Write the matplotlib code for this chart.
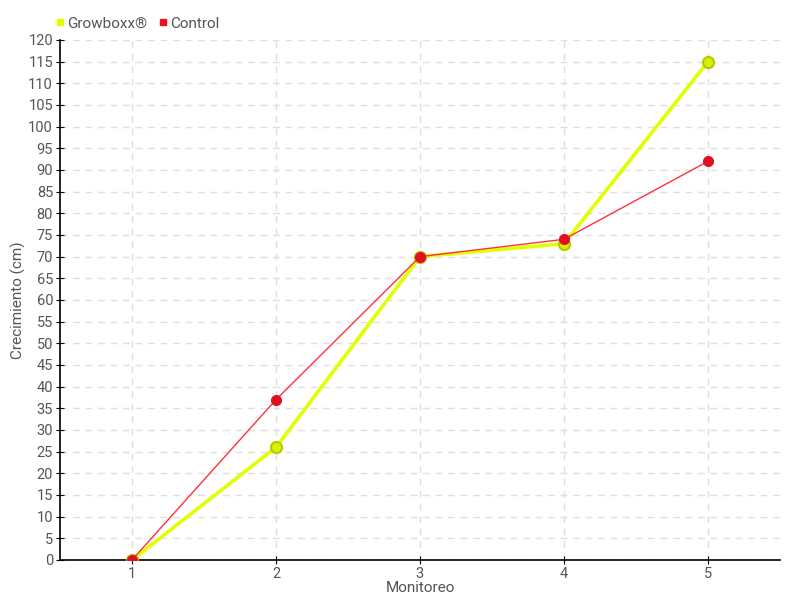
import matplotlib
matplotlib.use("Agg")
import matplotlib.pyplot as plt
from matplotlib.lines import Line2D

# data
monitoreo = [1, 2, 3, 4, 5]
growboxx = [0, 26, 70, 73, 115]
control = [0, 37, 70, 74, 92]
yticks = list(range(0, 121, 5))

plt.rcParams['font.family'] = ['Roboto', 'DejaVu Sans']
txt = '#555555'

fig = plt.figure(figsize=(8, 6), dpi=100)
ax = fig.add_axes([0.075, 0.0667, 0.9, 0.8667])

ax.plot(monitoreo, growboxx, color='#e2ff00', lw=2.6, marker='o', ms=8,
        mfc='#d6f000', mec='#b8c800', mew=1.5, zorder=3)
ax.plot(monitoreo, control, color='#ff3040', lw=1, marker='o', ms=7,
        mfc='#e01020', mec='#e01020', zorder=4)

ax.set_xlim(0.5, 5.5)
ax.set_ylim(0, 120)
ax.set_xticks(monitoreo)
ax.set_yticks(yticks)
ax.grid(True, color='#e0e0e0', ls=(0, (5, 4)), lw=1)
ax.set_axisbelow(True)
for s in ['top', 'right']:
    ax.spines[s].set_visible(False)
for s in ['left', 'bottom']:
    ax.spines[s].set_color('black')
    ax.spines[s].set_linewidth(1.2)
ax.tick_params(axis='both', direction='inout', length=6, color='black',
               labelsize=10.5, labelcolor=txt, pad=2)

ax.set_xlabel('Monitoreo', color=txt, fontsize=11, labelpad=0)
ax.set_ylabel('Crecimiento (cm)', color=txt, fontsize=11, labelpad=2)

handles = [Line2D([], [], ls='', marker='s', ms=5, color='#e2ff00'),
           Line2D([], [], ls='', marker='s', ms=5, color='#ee1122')]
fig.legend(handles, ['Growboxx®', 'Control'], loc='upper left',
           bbox_to_anchor=(0.05, 0.995), ncol=2, frameon=False,
           handletextpad=0.1, columnspacing=0.6, handlelength=0.8,
           fontsize=11, labelcolor=txt)

fig.savefig('out.png', dpi=100)
